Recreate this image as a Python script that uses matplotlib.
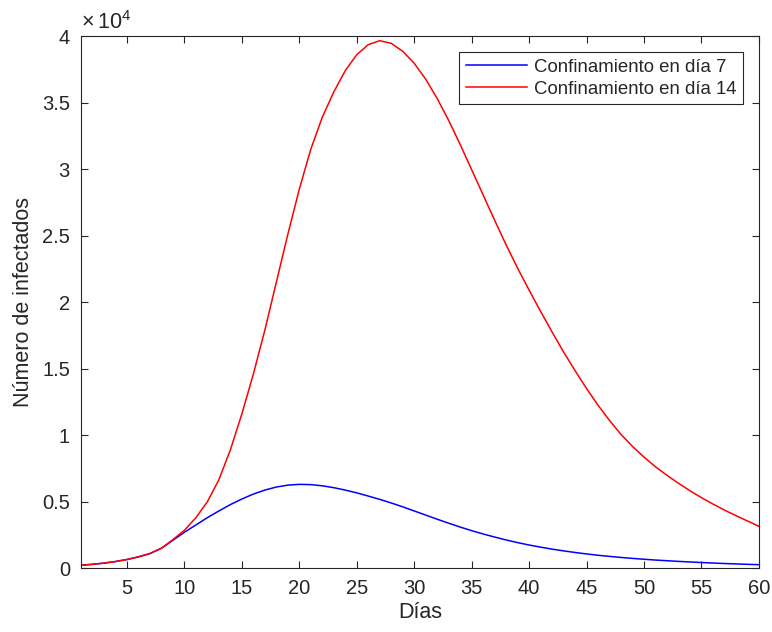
import numpy as np
import matplotlib
matplotlib.use('Agg')
import matplotlib.pyplot as plt
from matplotlib.ticker import FuncFormatter

plt.rcParams['font.family'] = ['Liberation Sans', 'DejaVu Sans']
plt.rcParams['mathtext.fontset'] = 'custom'
plt.rcParams['mathtext.rm'] = 'Liberation Sans'

# Datos
dias = np.arange(1, 61)
confin_dia7 = [220, 290, 380, 500, 650, 850, 1100, 1500, 2100, 2700,
               3250, 3800, 4300, 4780, 5200, 5570, 5870, 6100, 6240, 6300,
               6280, 6190, 6050, 5870, 5660, 5420, 5170, 4900, 4610, 4300,
               3990, 3680, 3380, 3090, 2820, 2570, 2340, 2120, 1920, 1740,
               1580, 1430, 1300, 1180, 1070, 970, 885, 805, 735, 670,
               610, 560, 510, 465, 425, 385, 350, 320, 290, 260]
confin_dia14 = [220, 290, 380, 500, 650, 850, 1100, 1500, 2150, 2850,
                3800, 5000, 6650, 8900, 11600, 14600, 17900, 21500, 25100, 28500,
                31500, 33900, 35800, 37400, 38600, 39350, 39650, 39450, 38850, 37950,
                36750, 35300, 33650, 31850, 29950, 28050, 26150, 24300, 22550, 20900,
                19300, 17750, 16250, 14850, 13500, 12250, 11100, 10050, 9150, 8350,
                7620, 6980, 6380, 5820, 5300, 4820, 4370, 3950, 3550, 3150]

xticks = list(range(5, 61, 5))
yticks = list(range(0, 40001, 5000))

fig = plt.figure(figsize=(7.72, 6.32), dpi=100)
ax = fig.add_axes([0.105, 0.101, 0.878, 0.842])

ax.plot(dias, confin_dia7, color='#0000ff', lw=1.1, label='Confinamiento en día 7')
ax.plot(dias, confin_dia14, color='#ff0000', lw=1.1, label='Confinamiento en día 14')

ax.set_xlim(1, 60)
ax.set_ylim(0, 40000)
ax.set_xticks(xticks)
ax.set_yticks(yticks)
ax.yaxis.set_major_formatter(FuncFormatter(lambda v, p: '%g' % (v / 1e4)))

tc = '#262626'
for s in ax.spines.values():
    s.set_color(tc)
    s.set_linewidth(0.8)
ax.tick_params(direction='in', length=5, width=0.8, colors=tc, labelsize=14.5,
               top=True, right=True)
ax.tick_params(axis='x', pad=8)
ax.tick_params(axis='y', pad=8)
ax.set_xlabel('Días', fontsize=15.5, color=tc, labelpad=3)
ax.set_ylabel('Número de infectados', fontsize=15.5, color=tc, labelpad=6)
ax.text(0.0, 1.004, r'$\mathregular{\times\,10^{4}}$', transform=ax.transAxes,
        fontsize=15.5, color=tc, ha='left', va='bottom')

leg = ax.legend(loc='upper right', fontsize=13.4, fancybox=False, framealpha=1,
                edgecolor=tc, handlelength=3.3, borderaxespad=0.86,
                borderpad=0.35, labelspacing=0.28, handletextpad=0.35)
leg.get_frame().set_linewidth(0.8)
for t in leg.get_texts():
    t.set_color(tc)

fig.savefig('out.png', dpi=100)
